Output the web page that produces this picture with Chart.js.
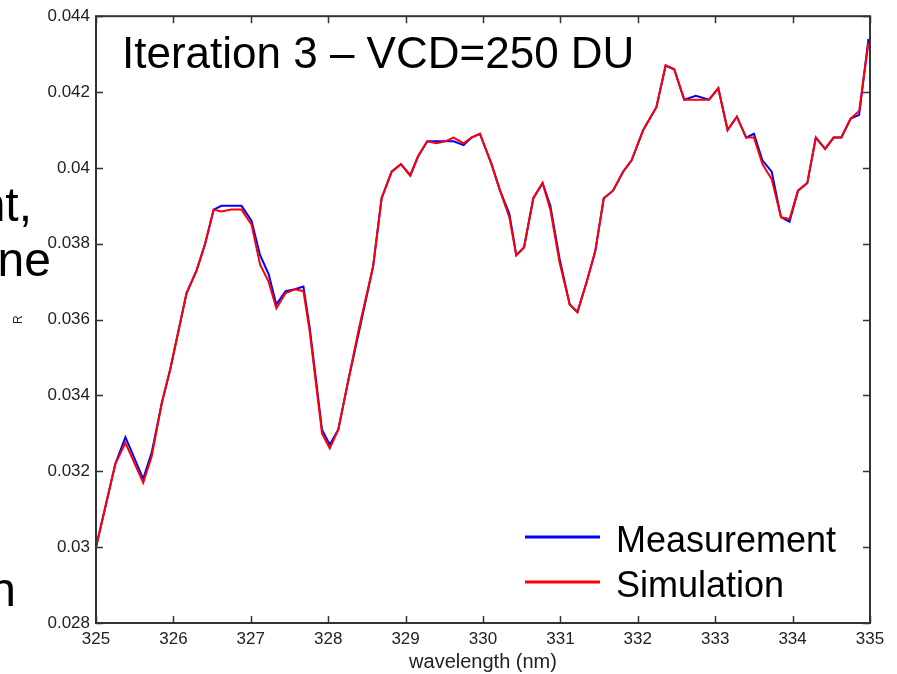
<!DOCTYPE html>
<html>
<head>
<meta charset="utf-8">
<script src="https://cdn.jsdelivr.net/npm/chart.js@4"></script>
<style>
  html, body { margin: 0; padding: 0; background: #fff; }
  #wrap { position: relative; width: 897px; height: 674px; overflow: hidden; }
</style>
</head>
<body>
<div id="wrap"><canvas id="spectrumChart" width="897" height="674"></canvas></div>
<script>
// Iterasi 3 - perbandingan reflektansi terukur vs simulasi
const wavelengths = [
  325.00, 325.25, 325.38, 325.61, 325.72, 325.85, 325.96, 326.17, 326.30, 326.41,
  326.52, 326.62, 326.75, 326.88, 327.01, 327.12, 327.23, 327.33, 327.45, 327.57,
  327.68, 327.76, 327.92, 328.02, 328.13, 328.26, 328.40, 328.58, 328.69, 328.82,
  328.94, 329.06, 329.16, 329.28, 329.40, 329.51, 329.62, 329.75, 329.85, 329.96,
  330.11, 330.22, 330.34, 330.43, 330.53, 330.65, 330.77, 330.87, 330.99, 331.12,
  331.22, 331.34, 331.45, 331.56, 331.68, 331.81, 331.92, 332.07, 332.24, 332.36,
  332.47, 332.60, 332.75, 332.92, 333.04, 333.16, 333.28, 333.40, 333.50, 333.61,
  333.73, 333.85, 333.96, 334.07, 334.19, 334.30, 334.42, 334.53, 334.63, 334.75,
  334.86, 334.98
];
const measurement = [
  0.0300, 0.0322, 0.0329, 0.0318, 0.0325, 0.0338, 0.0347, 0.0367, 0.0373, 0.0380,
  0.0389, 0.0390, 0.0390, 0.0390, 0.0386, 0.0377, 0.0372, 0.0364, 0.03675, 0.0368,
  0.03687, 0.0358, 0.0331, 0.0327, 0.0331, 0.0344, 0.0357, 0.0374, 0.0392, 0.0399,
  0.0401, 0.0398, 0.0403, 0.0407, 0.0407, 0.0407, 0.0407, 0.0406, 0.0408, 0.0409,
  0.0401, 0.0394, 0.0388, 0.0377, 0.0379, 0.0392, 0.0396, 0.0390, 0.0376, 0.0364,
  0.0362, 0.0370, 0.0378, 0.0392, 0.0394, 0.0399, 0.0402, 0.0410, 0.0416, 0.0427,
  0.0426, 0.0418, 0.0419, 0.0418, 0.0421, 0.0410, 0.04135, 0.0408, 0.0409, 0.0402,
  0.0399, 0.0387, 0.03858, 0.0394, 0.0396, 0.0408, 0.0405, 0.0408, 0.0408, 0.0413,
  0.0414, 0.0434
];
const simulation = [
  0.0300, 0.0322, 0.03275, 0.0317, 0.0324, 0.0338, 0.0347, 0.0367, 0.0373, 0.0380,
  0.0389, 0.03885, 0.0389, 0.0389, 0.0385, 0.03745, 0.0370, 0.0363, 0.0367, 0.0368,
  0.03675, 0.0357, 0.0330, 0.0326, 0.0331, 0.0344, 0.0358, 0.0374, 0.0392, 0.0399,
  0.0401, 0.0398, 0.0403, 0.0407, 0.04065, 0.0407, 0.0408, 0.04065, 0.0408, 0.0409,
  0.0401, 0.0394, 0.0387, 0.0377, 0.0379, 0.0392, 0.0396, 0.0389, 0.0375, 0.0364,
  0.0362, 0.0370, 0.0378, 0.0392, 0.0394, 0.0399, 0.0402, 0.0410, 0.0416, 0.0427,
  0.0426, 0.0418, 0.0418, 0.0418, 0.0421, 0.0410, 0.04135, 0.0408, 0.0408, 0.0401,
  0.0397, 0.0387, 0.03865, 0.0394, 0.0396, 0.0408, 0.0405, 0.0408, 0.0408, 0.0413,
  0.0415, 0.0433
];
const xTickValues = [325, 326, 327, 328, 329, 330, 331, 332, 333, 334, 335];
const yTickValues = [0.028, 0.03, 0.032, 0.034, 0.036, 0.038, 0.04, 0.042, 0.044];

const chartTitle = "Iteration 3 \u2013 VCD=250 DU";
const seriesNames = ["Measurement", "Simulation"];
// potongan teks dari slide sebelah kiri (terpotong)
const leftFragments = ["nt,", "ne", "n"];

const FONT = "Arial, 'Liberation Sans', Helvetica, sans-serif";

// kotak sumbu + tick ke dalam, judul, legenda
const framePlugin = {
  id: "frame",
  afterDatasetsDraw(chart) {
    const ctx = chart.ctx;
    const area = chart.chartArea;
    const xs = chart.scales.x;
    const ys = chart.scales.y;
    const tickLen = 7;

    ctx.save();
    ctx.strokeStyle = "#333";
    ctx.lineWidth = 2;
    ctx.strokeRect(area.left, area.top, area.right - area.left, area.bottom - area.top);

    ctx.lineWidth = 1.5;
    ctx.beginPath();
    xTickValues.forEach((v) => {
      const px = Math.round(xs.getPixelForValue(v)) + 0.5;
      ctx.moveTo(px, area.bottom);
      ctx.lineTo(px, area.bottom - tickLen);
      ctx.moveTo(px, area.top);
      ctx.lineTo(px, area.top + tickLen);
    });
    yTickValues.forEach((v) => {
      const py = Math.round(ys.getPixelForValue(v)) + 0.5;
      ctx.moveTo(area.left, py);
      ctx.lineTo(area.left + tickLen, py);
      ctx.moveTo(area.right, py);
      ctx.lineTo(area.right - tickLen, py);
    });
    ctx.stroke();

    // judul di dalam area plot
    ctx.fillStyle = "#000";
    ctx.textBaseline = "alphabetic";
    ctx.textAlign = "left";
    ctx.font = "44px " + FONT;
    ctx.fillText(chartTitle, 122, 68);

    // legenda
    const legendY = [537, 582];
    chart.data.datasets.forEach((ds, i) => {
      ctx.strokeStyle = ds.borderColor;
      ctx.lineWidth = 3;
      ctx.beginPath();
      ctx.moveTo(525, legendY[i]);
      ctx.lineTo(600, legendY[i]);
      ctx.stroke();
      ctx.fillStyle = "#000";
      ctx.font = "36px " + FONT;
      ctx.fillText(ds.label, 616, legendY[i] + 15);
    });

    // teks slide yang terpotong di kiri
    ctx.font = "48px " + FONT;
    ctx.textAlign = "right";
    ctx.fillText(leftFragments[0], 32, 221);
    ctx.fillText(leftFragments[1], 51, 276);
    ctx.fillText(leftFragments[2], 16, 606);
    ctx.restore();
  },
};

const ctx = document.getElementById("spectrumChart").getContext("2d");
window.spectrumChart = new Chart(ctx, {
  type: "line",
  data: {
    datasets: [
      {
        label: seriesNames[0],
        data: wavelengths.map((w, i) => ({ x: w, y: measurement[i] })),
        borderColor: "#0000ff",
        borderWidth: 2,
        pointRadius: 0,
        tension: 0,
        fill: false,
        order: 2,
      },
      {
        label: seriesNames[1],
        data: wavelengths.map((w, i) => ({ x: w, y: simulation[i] })),
        borderColor: "#ff0000",
        borderWidth: 2,
        pointRadius: 0,
        tension: 0,
        fill: false,
        order: 1,
      },
    ],
  },
  options: {
    responsive: false,
    animation: false,
    layout: { padding: { top: 15, right: 27, left: 0, bottom: 0 } },
    plugins: {
      legend: { display: false },
      title: { display: false },
      tooltip: { enabled: false },
    },
    scales: {
      x: {
        type: "linear",
        min: 325,
        max: 335,
        afterBuildTicks: (scale) => {
          scale.ticks = xTickValues.map((v) => ({ value: v }));
        },
        afterFit: (scale) => {
          scale.height = 51;
        },
        grid: { display: false, drawTicks: false },
        border: { display: false },
        ticks: {
          padding: 6,
          color: "#222",
          font: { family: FONT, size: 17 },
          maxRotation: 0,
          callback: (v) => String(v),
        },
        title: {
          display: true,
          text: "wavelength (nm)",
          color: "#222",
          font: { family: FONT, size: 20, lineHeight: 1.2 },
          padding: { top: 0, bottom: 0 },
        },
      },
      y: {
        type: "linear",
        min: 0.028,
        max: 0.044,
        afterBuildTicks: (scale) => {
          scale.ticks = yTickValues.map((v) => ({ value: v }));
        },
        afterFit: (scale) => {
          scale.width = 96;
        },
        grid: { display: false, drawTicks: false },
        border: { display: false },
        ticks: {
          padding: 6,
          color: "#222",
          font: { family: FONT, size: 17 },
          callback: (v) => String(+v.toFixed(3)),
        },
        title: {
          display: true,
          text: "R",
          color: "#222",
          font: { family: FONT, size: 12, lineHeight: 1.2 },
          padding: { top: 11, bottom: 0 },
        },
      },
    },
  },
  plugins: [framePlugin],
});
</script>
</body>
</html>
